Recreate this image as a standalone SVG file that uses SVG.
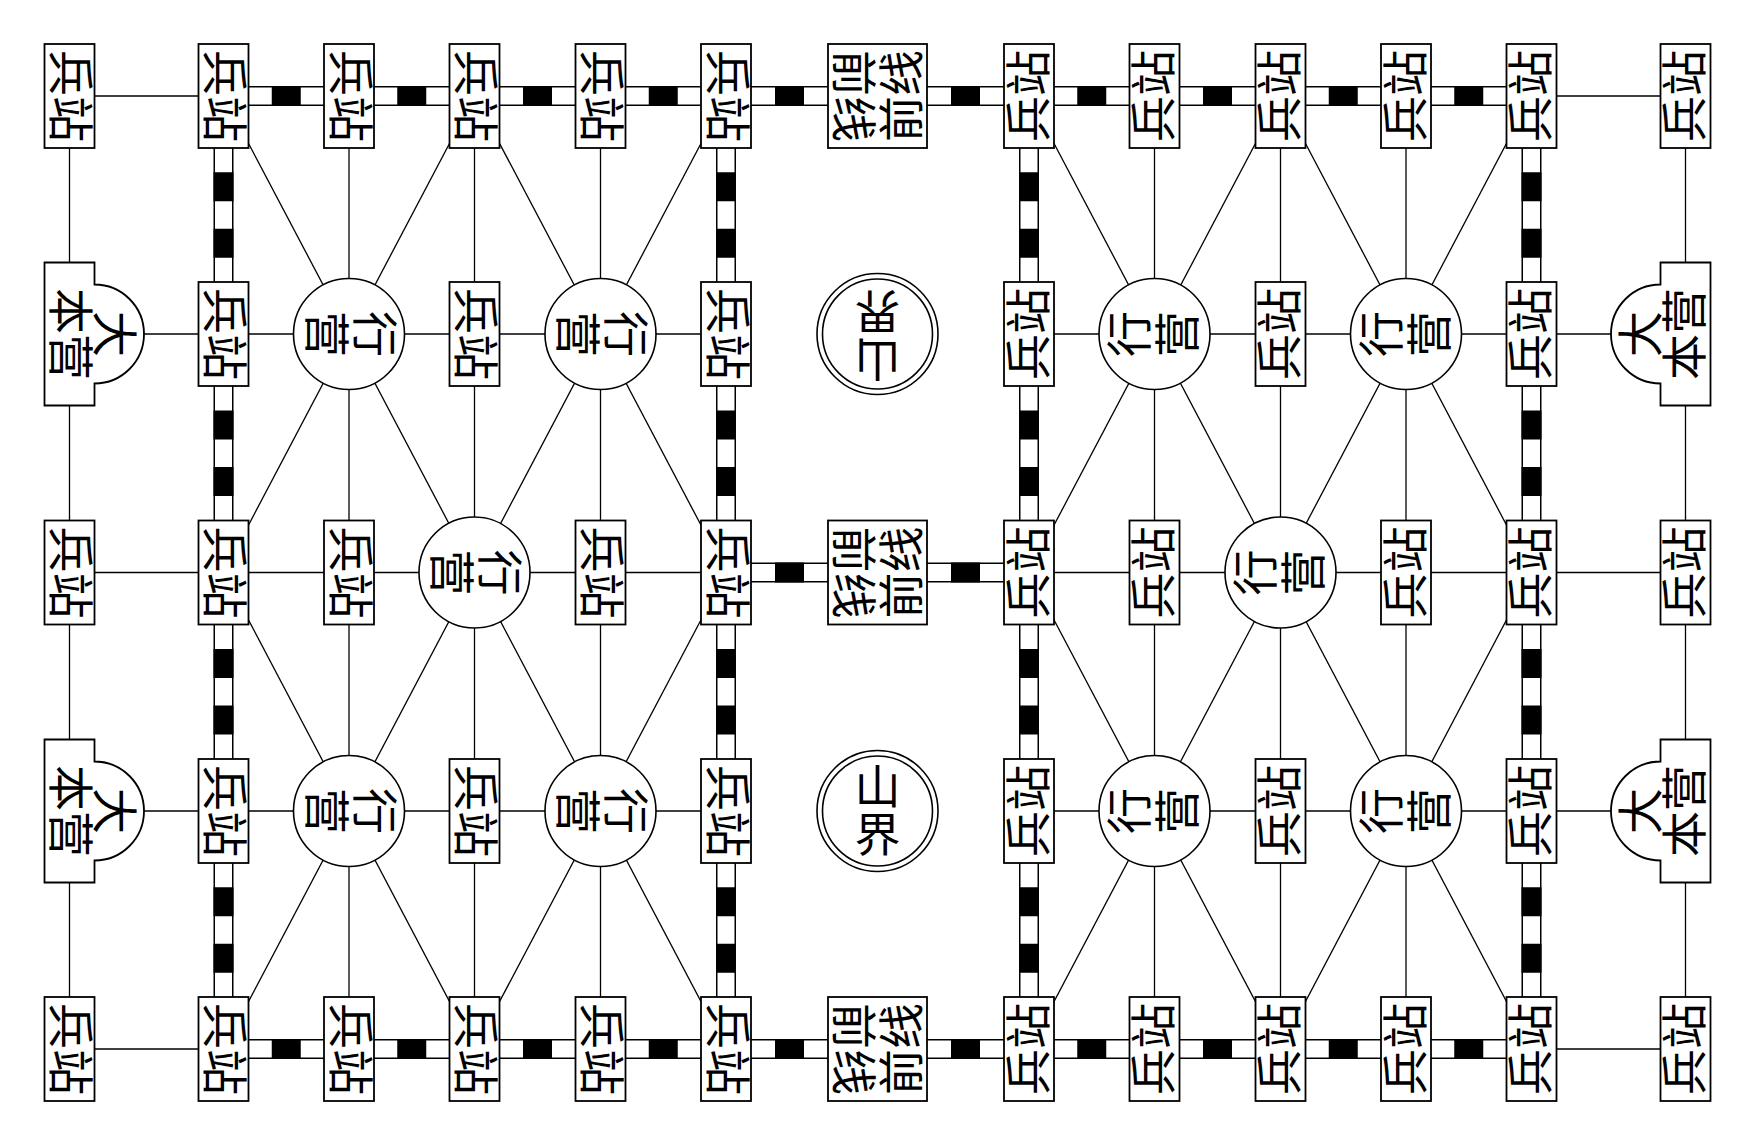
<svg xmlns="http://www.w3.org/2000/svg" xmlns:xlink="http://www.w3.org/1999/xlink" width="1749" height="1147" viewBox="0 0 1749 1147">
<style>
.box{fill:#fff;stroke:#000;stroke-width:1.8}
.cir{fill:#fff;stroke:#000;stroke-width:1.6}
.ln{stroke:#000;stroke-width:1.3;fill:none}
.rb{stroke:#000;stroke-width:20;fill:none}
.rw{stroke:#fff;stroke-width:17;fill:none}
.t{font-family:"Liberation Serif","Noto Sans CJK SC",serif;font-size:46px;text-anchor:middle;dominant-baseline:central;fill:#000}
</style>
<defs>
<rect id="hb" width="29" height="20" fill="#000"/>
<rect id="vb" width="20" height="29" fill="#000"/>
</defs>
<rect width="1749" height="1147" fill="#fff"/>
<g id="connectors">
<g id="plain">
<line class="ln" x1="69.5" y1="96" x2="69.5" y2="1049"/>
<line class="ln" x1="1685.5" y1="96" x2="1685.5" y2="1049"/>
<line class="ln" x1="349" y1="96" x2="349" y2="1049"/>
<line class="ln" x1="474.5" y1="96" x2="474.5" y2="1049"/>
<line class="ln" x1="600.5" y1="96" x2="600.5" y2="1049"/>
<line class="ln" x1="1154.5" y1="96" x2="1154.5" y2="1049"/>
<line class="ln" x1="1280.5" y1="96" x2="1280.5" y2="1049"/>
<line class="ln" x1="1406" y1="96" x2="1406" y2="1049"/>
<line class="ln" x1="69.5" y1="96" x2="223.5" y2="96"/>
<line class="ln" x1="1531.5" y1="96" x2="1685.5" y2="96"/>
<line class="ln" x1="69.5" y1="1049" x2="223.5" y2="1049"/>
<line class="ln" x1="1531.5" y1="1049" x2="1685.5" y2="1049"/>
<line class="ln" x1="69.5" y1="334" x2="726" y2="334"/>
<line class="ln" x1="1029" y1="334" x2="1685.5" y2="334"/>
<line class="ln" x1="69.5" y1="572.5" x2="726" y2="572.5"/>
<line class="ln" x1="1029" y1="572.5" x2="1685.5" y2="572.5"/>
<line class="ln" x1="69.5" y1="811" x2="726" y2="811"/>
<line class="ln" x1="1029" y1="811" x2="1685.5" y2="811"/>
<line class="ln" x1="223.5" y1="96" x2="726" y2="1049"/>
<line class="ln" x1="726" y1="96" x2="223.5" y2="1049"/>
<line class="ln" x1="474.5" y1="96" x2="223.5" y2="572.5"/>
<line class="ln" x1="474.5" y1="96" x2="726" y2="572.5"/>
<line class="ln" x1="223.5" y1="572.5" x2="474.5" y2="1049"/>
<line class="ln" x1="726" y1="572.5" x2="474.5" y2="1049"/>
<line class="ln" x1="1029" y1="96" x2="1531.5" y2="1049"/>
<line class="ln" x1="1531.5" y1="96" x2="1029" y2="1049"/>
<line class="ln" x1="1280.5" y1="96" x2="1029" y2="572.5"/>
<line class="ln" x1="1280.5" y1="96" x2="1531.5" y2="572.5"/>
<line class="ln" x1="1029" y1="572.5" x2="1280.5" y2="1049"/>
<line class="ln" x1="1531.5" y1="572.5" x2="1280.5" y2="1049"/>
</g>
<g id="railways">
<path class="rb" d="M223.5,96H1531.5M223.5,1049H1531.5M726,572.5H1029M223.5,96V1049M726,96V1049M1029,96V1049M1531.5,96V1049"/>
<path class="rw" d="M223.5,96H1531.5M223.5,1049H1531.5M726,572.5H1029M223.5,96V1049M726,96V1049M1029,96V1049M1531.5,96V1049"/>
<use href="#hb" x="271.75" y="86"/><use href="#hb" x="397.25" y="86"/><use href="#hb" x="523" y="86"/><use href="#hb" x="648.75" y="86"/><use href="#hb" x="775" y="86"/><use href="#hb" x="951" y="86"/><use href="#hb" x="1077.25" y="86"/><use href="#hb" x="1203" y="86"/><use href="#hb" x="1328.75" y="86"/><use href="#hb" x="1454.25" y="86"/>
<use href="#hb" x="271.75" y="1039"/><use href="#hb" x="397.25" y="1039"/><use href="#hb" x="523" y="1039"/><use href="#hb" x="648.75" y="1039"/><use href="#hb" x="775" y="1039"/><use href="#hb" x="951" y="1039"/><use href="#hb" x="1077.25" y="1039"/><use href="#hb" x="1203" y="1039"/><use href="#hb" x="1328.75" y="1039"/><use href="#hb" x="1454.25" y="1039"/>
<use href="#hb" x="775" y="562.5"/><use href="#hb" x="951" y="562.5"/>
<use href="#vb" x="213.5" y="172.25"/><use href="#vb" x="213.5" y="228.75"/><use href="#vb" x="213.5" y="410.5"/><use href="#vb" x="213.5" y="467"/><use href="#vb" x="213.5" y="649"/><use href="#vb" x="213.5" y="705.5"/><use href="#vb" x="213.5" y="887.25"/><use href="#vb" x="213.5" y="943.75"/>
<use href="#vb" x="716" y="172.25"/><use href="#vb" x="716" y="228.75"/><use href="#vb" x="716" y="410.5"/><use href="#vb" x="716" y="467"/><use href="#vb" x="716" y="649"/><use href="#vb" x="716" y="705.5"/><use href="#vb" x="716" y="887.25"/><use href="#vb" x="716" y="943.75"/>
<use href="#vb" x="1019" y="172.25"/><use href="#vb" x="1019" y="228.75"/><use href="#vb" x="1019" y="410.5"/><use href="#vb" x="1019" y="467"/><use href="#vb" x="1019" y="649"/><use href="#vb" x="1019" y="705.5"/><use href="#vb" x="1019" y="887.25"/><use href="#vb" x="1019" y="943.75"/>
<use href="#vb" x="1521.5" y="172.25"/><use href="#vb" x="1521.5" y="228.75"/><use href="#vb" x="1521.5" y="410.5"/><use href="#vb" x="1521.5" y="467"/><use href="#vb" x="1521.5" y="649"/><use href="#vb" x="1521.5" y="705.5"/><use href="#vb" x="1521.5" y="887.25"/><use href="#vb" x="1521.5" y="943.75"/>
</g>
</g>
<g id="nodes">
<!-- left 兵站 -->
<g id="L-bz-0-0" transform="translate(69.5 96)"><rect class="box" x="-25" y="-52" width="50" height="104"/><text class="t" transform="rotate(90)">兵站</text></g>
<g id="L-bz-0-1" transform="translate(223.5 96)"><rect class="box" x="-25" y="-52" width="50" height="104"/><text class="t" transform="rotate(90)">兵站</text></g>
<g id="L-bz-0-2" transform="translate(349 96)"><rect class="box" x="-25" y="-52" width="50" height="104"/><text class="t" transform="rotate(90)">兵站</text></g>
<g id="L-bz-0-3" transform="translate(474.5 96)"><rect class="box" x="-25" y="-52" width="50" height="104"/><text class="t" transform="rotate(90)">兵站</text></g>
<g id="L-bz-0-4" transform="translate(600.5 96)"><rect class="box" x="-25" y="-52" width="50" height="104"/><text class="t" transform="rotate(90)">兵站</text></g>
<g id="L-bz-0-5" transform="translate(726 96)"><rect class="box" x="-25" y="-52" width="50" height="104"/><text class="t" transform="rotate(90)">兵站</text></g>
<g id="L-bz-1-1" transform="translate(223.5 334)"><rect class="box" x="-25" y="-52" width="50" height="104"/><text class="t" transform="rotate(90)">兵站</text></g>
<g id="L-bz-1-3" transform="translate(474.5 334)"><rect class="box" x="-25" y="-52" width="50" height="104"/><text class="t" transform="rotate(90)">兵站</text></g>
<g id="L-bz-1-5" transform="translate(726 334)"><rect class="box" x="-25" y="-52" width="50" height="104"/><text class="t" transform="rotate(90)">兵站</text></g>
<g id="L-bz-2-0" transform="translate(69.5 572.5)"><rect class="box" x="-25" y="-52" width="50" height="104"/><text class="t" transform="rotate(90)">兵站</text></g>
<g id="L-bz-2-1" transform="translate(223.5 572.5)"><rect class="box" x="-25" y="-52" width="50" height="104"/><text class="t" transform="rotate(90)">兵站</text></g>
<g id="L-bz-2-2" transform="translate(349 572.5)"><rect class="box" x="-25" y="-52" width="50" height="104"/><text class="t" transform="rotate(90)">兵站</text></g>
<g id="L-bz-2-4" transform="translate(600.5 572.5)"><rect class="box" x="-25" y="-52" width="50" height="104"/><text class="t" transform="rotate(90)">兵站</text></g>
<g id="L-bz-2-5" transform="translate(726 572.5)"><rect class="box" x="-25" y="-52" width="50" height="104"/><text class="t" transform="rotate(90)">兵站</text></g>
<g id="L-bz-3-1" transform="translate(223.5 811)"><rect class="box" x="-25" y="-52" width="50" height="104"/><text class="t" transform="rotate(90)">兵站</text></g>
<g id="L-bz-3-3" transform="translate(474.5 811)"><rect class="box" x="-25" y="-52" width="50" height="104"/><text class="t" transform="rotate(90)">兵站</text></g>
<g id="L-bz-3-5" transform="translate(726 811)"><rect class="box" x="-25" y="-52" width="50" height="104"/><text class="t" transform="rotate(90)">兵站</text></g>
<g id="L-bz-4-0" transform="translate(69.5 1049)"><rect class="box" x="-25" y="-52" width="50" height="104"/><text class="t" transform="rotate(90)">兵站</text></g>
<g id="L-bz-4-1" transform="translate(223.5 1049)"><rect class="box" x="-25" y="-52" width="50" height="104"/><text class="t" transform="rotate(90)">兵站</text></g>
<g id="L-bz-4-2" transform="translate(349 1049)"><rect class="box" x="-25" y="-52" width="50" height="104"/><text class="t" transform="rotate(90)">兵站</text></g>
<g id="L-bz-4-3" transform="translate(474.5 1049)"><rect class="box" x="-25" y="-52" width="50" height="104"/><text class="t" transform="rotate(90)">兵站</text></g>
<g id="L-bz-4-4" transform="translate(600.5 1049)"><rect class="box" x="-25" y="-52" width="50" height="104"/><text class="t" transform="rotate(90)">兵站</text></g>
<g id="L-bz-4-5" transform="translate(726 1049)"><rect class="box" x="-25" y="-52" width="50" height="104"/><text class="t" transform="rotate(90)">兵站</text></g>
<!-- left 行营 -->
<g id="L-xy-1-2" transform="translate(349 334)"><circle class="cir" r="55.5"/><g transform="rotate(90)"><text class="t" y="-24">行</text><text class="t" y="24">营</text></g></g>
<g id="L-xy-1-4" transform="translate(600.5 334)"><circle class="cir" r="55.5"/><g transform="rotate(90)"><text class="t" y="-24">行</text><text class="t" y="24">营</text></g></g>
<g id="L-xy-2-3" transform="translate(474.5 572.5)"><circle class="cir" r="55.5"/><g transform="rotate(90)"><text class="t" y="-24">行</text><text class="t" y="24">营</text></g></g>
<g id="L-xy-3-2" transform="translate(349 811)"><circle class="cir" r="55.5"/><g transform="rotate(90)"><text class="t" y="-24">行</text><text class="t" y="24">营</text></g></g>
<g id="L-xy-3-4" transform="translate(600.5 811)"><circle class="cir" r="55.5"/><g transform="rotate(90)"><text class="t" y="-24">行</text><text class="t" y="24">营</text></g></g>
<!-- left 大本营 -->
<g id="L-dby-1" transform="translate(69.5 334)"><path class="box" d="M-25,-71.5H25V-49.5A49.5,49.5 0 0 1 25,49.5V71.5H-25Z"/><g transform="rotate(90)"><text class="t" y="-44">大</text><text class="t" y="0">本营</text></g></g>
<g id="L-dby-3" transform="translate(69.5 811)"><path class="box" d="M-25,-71.5H25V-49.5A49.5,49.5 0 0 1 25,49.5V71.5H-25Z"/><g transform="rotate(90)"><text class="t" y="-44">大</text><text class="t" y="0">本营</text></g></g>
<!-- middle -->
<g id="M-qx-0" transform="translate(877.5 96)"><rect class="box" x="-49.5" y="-52" width="99" height="104"/><text class="t" transform="translate(-25 0) rotate(90)">前线</text><text class="t" transform="translate(25 0) rotate(-90)">前线</text></g>
<g id="M-qx-2" transform="translate(877.5 572.5)"><rect class="box" x="-49.5" y="-52" width="99" height="104"/><text class="t" transform="translate(-25 0) rotate(90)">前线</text><text class="t" transform="translate(25 0) rotate(-90)">前线</text></g>
<g id="M-qx-4" transform="translate(877.5 1049)"><rect class="box" x="-49.5" y="-52" width="99" height="104"/><text class="t" transform="translate(-25 0) rotate(90)">前线</text><text class="t" transform="translate(25 0) rotate(-90)">前线</text></g>
<g id="M-sj-1" transform="translate(877.5 334)"><circle class="cir" r="60.5"/><circle class="cir" r="55"/><g transform="rotate(180)"><text class="t" y="-24">山</text><text class="t" y="24">界</text></g></g>
<g id="M-sj-3" transform="translate(877.5 811)"><circle class="cir" r="60.5"/><circle class="cir" r="55"/><text class="t" y="-24">山</text><text class="t" y="24">界</text></g>
<!-- right 兵站 -->
<g id="R-bz-0-1" transform="translate(1029 96)"><rect class="box" x="-25" y="-52" width="50" height="104"/><text class="t" transform="rotate(-90)">兵站</text></g>
<g id="R-bz-0-2" transform="translate(1154.5 96)"><rect class="box" x="-25" y="-52" width="50" height="104"/><text class="t" transform="rotate(-90)">兵站</text></g>
<g id="R-bz-0-3" transform="translate(1280.5 96)"><rect class="box" x="-25" y="-52" width="50" height="104"/><text class="t" transform="rotate(-90)">兵站</text></g>
<g id="R-bz-0-4" transform="translate(1406 96)"><rect class="box" x="-25" y="-52" width="50" height="104"/><text class="t" transform="rotate(-90)">兵站</text></g>
<g id="R-bz-0-5" transform="translate(1531.5 96)"><rect class="box" x="-25" y="-52" width="50" height="104"/><text class="t" transform="rotate(-90)">兵站</text></g>
<g id="R-bz-0-6" transform="translate(1685.5 96)"><rect class="box" x="-25" y="-52" width="50" height="104"/><text class="t" transform="rotate(-90)">兵站</text></g>
<g id="R-bz-1-1" transform="translate(1029 334)"><rect class="box" x="-25" y="-52" width="50" height="104"/><text class="t" transform="rotate(-90)">兵站</text></g>
<g id="R-bz-1-3" transform="translate(1280.5 334)"><rect class="box" x="-25" y="-52" width="50" height="104"/><text class="t" transform="rotate(-90)">兵站</text></g>
<g id="R-bz-1-5" transform="translate(1531.5 334)"><rect class="box" x="-25" y="-52" width="50" height="104"/><text class="t" transform="rotate(-90)">兵站</text></g>
<g id="R-bz-2-1" transform="translate(1029 572.5)"><rect class="box" x="-25" y="-52" width="50" height="104"/><text class="t" transform="rotate(-90)">兵站</text></g>
<g id="R-bz-2-2" transform="translate(1154.5 572.5)"><rect class="box" x="-25" y="-52" width="50" height="104"/><text class="t" transform="rotate(-90)">兵站</text></g>
<g id="R-bz-2-4" transform="translate(1406 572.5)"><rect class="box" x="-25" y="-52" width="50" height="104"/><text class="t" transform="rotate(-90)">兵站</text></g>
<g id="R-bz-2-5" transform="translate(1531.5 572.5)"><rect class="box" x="-25" y="-52" width="50" height="104"/><text class="t" transform="rotate(-90)">兵站</text></g>
<g id="R-bz-2-6" transform="translate(1685.5 572.5)"><rect class="box" x="-25" y="-52" width="50" height="104"/><text class="t" transform="rotate(-90)">兵站</text></g>
<g id="R-bz-3-1" transform="translate(1029 811)"><rect class="box" x="-25" y="-52" width="50" height="104"/><text class="t" transform="rotate(-90)">兵站</text></g>
<g id="R-bz-3-3" transform="translate(1280.5 811)"><rect class="box" x="-25" y="-52" width="50" height="104"/><text class="t" transform="rotate(-90)">兵站</text></g>
<g id="R-bz-3-5" transform="translate(1531.5 811)"><rect class="box" x="-25" y="-52" width="50" height="104"/><text class="t" transform="rotate(-90)">兵站</text></g>
<g id="R-bz-4-1" transform="translate(1029 1049)"><rect class="box" x="-25" y="-52" width="50" height="104"/><text class="t" transform="rotate(-90)">兵站</text></g>
<g id="R-bz-4-2" transform="translate(1154.5 1049)"><rect class="box" x="-25" y="-52" width="50" height="104"/><text class="t" transform="rotate(-90)">兵站</text></g>
<g id="R-bz-4-3" transform="translate(1280.5 1049)"><rect class="box" x="-25" y="-52" width="50" height="104"/><text class="t" transform="rotate(-90)">兵站</text></g>
<g id="R-bz-4-4" transform="translate(1406 1049)"><rect class="box" x="-25" y="-52" width="50" height="104"/><text class="t" transform="rotate(-90)">兵站</text></g>
<g id="R-bz-4-5" transform="translate(1531.5 1049)"><rect class="box" x="-25" y="-52" width="50" height="104"/><text class="t" transform="rotate(-90)">兵站</text></g>
<g id="R-bz-4-6" transform="translate(1685.5 1049)"><rect class="box" x="-25" y="-52" width="50" height="104"/><text class="t" transform="rotate(-90)">兵站</text></g>
<!-- right 行营 -->
<g id="R-xy-1-2" transform="translate(1154.5 334)"><circle class="cir" r="55.5"/><g transform="rotate(-90)"><text class="t" y="-24">行</text><text class="t" y="24">营</text></g></g>
<g id="R-xy-1-4" transform="translate(1406 334)"><circle class="cir" r="55.5"/><g transform="rotate(-90)"><text class="t" y="-24">行</text><text class="t" y="24">营</text></g></g>
<g id="R-xy-2-3" transform="translate(1280.5 572.5)"><circle class="cir" r="55.5"/><g transform="rotate(-90)"><text class="t" y="-24">行</text><text class="t" y="24">营</text></g></g>
<g id="R-xy-3-2" transform="translate(1154.5 811)"><circle class="cir" r="55.5"/><g transform="rotate(-90)"><text class="t" y="-24">行</text><text class="t" y="24">营</text></g></g>
<g id="R-xy-3-4" transform="translate(1406 811)"><circle class="cir" r="55.5"/><g transform="rotate(-90)"><text class="t" y="-24">行</text><text class="t" y="24">营</text></g></g>
<!-- right 大本营 -->
<g id="R-dby-1" transform="translate(1685.5 334)"><path class="box" d="M25,-71.5H-25V-49.5A49.5,49.5 0 0 0 -25,49.5V71.5H25Z"/><g transform="rotate(-90)"><text class="t" y="-44">大</text><text class="t" y="0">本营</text></g></g>
<g id="R-dby-3" transform="translate(1685.5 811)"><path class="box" d="M25,-71.5H-25V-49.5A49.5,49.5 0 0 0 -25,49.5V71.5H25Z"/><g transform="rotate(-90)"><text class="t" y="-44">大</text><text class="t" y="0">本营</text></g></g>
</g>
</svg>
